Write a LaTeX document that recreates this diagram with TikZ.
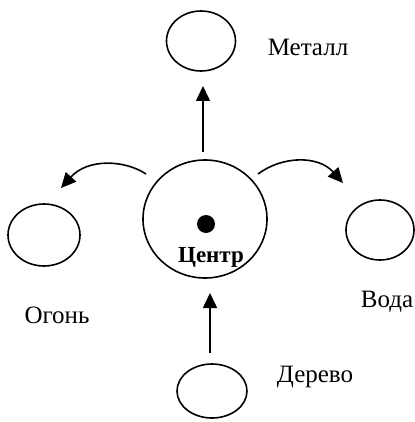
\documentclass[tikz,border=0pt]{standalone}
\usepackage{fontspec}
\setmainfont{Liberation Serif}
\usetikzlibrary{shapes.geometric,arrows.meta}
\begin{document}
\begin{tikzpicture}[x=1pt,y=-1pt,
 el/.style={draw,ellipse,line width=1.6pt,inner sep=0pt},
 lbl/.style={font=\fontsize{25}{30}\selectfont,inner sep=0pt},
 arr/.style={line width=1.6pt,-{Triangle[length=15pt,width=14pt]}}]
\useasboundingbox (0,0) rectangle (414,422);
% ellipses
\node[el,minimum width=69pt,minimum height=60pt] (m) at (201,41) {};
\node[el,minimum width=124pt,minimum height=118pt] (c) at (205,219) {};
\node[el,minimum width=72pt,minimum height=62pt] (f) at (44,235) {};
\node[el,minimum width=68pt,minimum height=60pt] (w) at (380,230) {};
\node[el,minimum width=70pt,minimum height=54pt] (d) at (212,391) {};
% centre dot and label
\node[circle,fill,minimum size=18pt,inner sep=0pt] (dot) at (206,224) {};
\node[lbl,font=\fontsize{23}{28}\selectfont\bfseries] (ct) at (211,257) {Центр};
% labels
\node[lbl] (lm) at (308,47) {Металл};
\node[lbl] (lf) at (57,315) {Огонь};
\node[lbl] (lw) at (387,302) {Вода};
\node[lbl] (ld) at (315,377) {Дерево};
% arrows
\coordinate (ms) at (203,152);
\coordinate (me) at (203,86);
\coordinate (ds) at (210,353);
\coordinate (de) at (210,293);
\draw[arr] (ms) -- (me);
\draw[arr] (ds) -- (de);
\coordinate (fs) at (146,174);
\coordinate (fe) at (61,188);
\coordinate (ws) at (258,174);
\coordinate (we) at (343,183);
\draw[arr] (fs) .. controls (125,160) and (88,158) .. (fe);
\draw[arr] (ws) .. controls (282,156) and (318,155) .. (we);
\end{tikzpicture}
\end{document}
